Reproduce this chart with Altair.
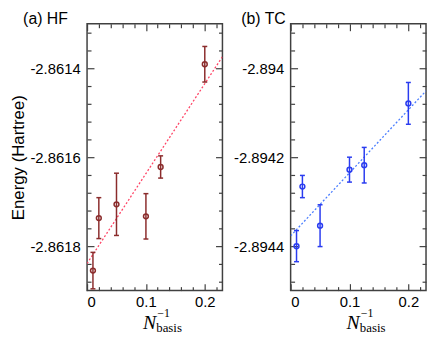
import altair as alt
import pandas as pd

# ---- data ----
inv_n = [0.01, 0.02, 0.05, 0.1, 0.125, 0.2]

hf_energy = [-2.861855, -2.861737, -2.861706, -2.861733, -2.861622, -2.861391]
hf_err = [0.000041, 0.000046, 0.00007, 0.000051, 0.000025, 0.00004]
hf_fit_x = [0.0, 0.23]
hf_fit_y = [-2.861839, -2.861374]

tc_energy = [-2.8944, -2.894266, -2.894354, -2.894228, -2.894218, -2.894079]
tc_err = [0.000035, 0.000025, 0.000047, 0.000028, 0.00004, 0.000047]
tc_fit_x = [0.0, 0.23]
tc_fit_y = [-2.894377, -2.894051]

x_domain = [0, 0.23]
x_ticks = [0, 0.02, 0.04, 0.06, 0.08, 0.1, 0.12, 0.14, 0.16, 0.18, 0.2, 0.22]
x_labels = [0, 0.1, 0.2]

hf_domain = [-2.8619, -2.8613]
hf_labels = [-2.8618, -2.8616, -2.8614]
hf_ticks = [-2.86188, -2.86184, -2.8618, -2.86176, -2.86172, -2.86168, -2.86164,
            -2.8616, -2.86156, -2.86152, -2.86148, -2.86144, -2.8614, -2.86136, -2.86132]

tc_domain = [-2.8945, -2.8939]
tc_labels = [-2.8944, -2.8942, -2.894]
tc_ticks = [-2.89448, -2.89444, -2.8944, -2.89436, -2.89432, -2.89428, -2.89424,
            -2.8942, -2.89416, -2.89412, -2.89408, -2.89404, -2.894, -2.89396, -2.89392]

SANS = "Liberation Sans, Arial, Helvetica, sans-serif"
SERIF = "Liberation Serif, Times New Roman, serif"
FRAME = "#404040"
W, H = 137, 270
TOP, BOTTOM = 13, 45

Y_MAJOR = "abs(datum.value*5000 - round(datum.value*5000)) < 0.01"
X_MAJOR = "abs(datum.value*10 - round(datum.value*10)) < 0.01"


def tick_axis(orient, offset, values, test):
    return alt.Axis(orient=orient, offset=offset, values=values, labels=False,
                    domain=False, grid=False, title=None, tickColor=FRAME, tickWidth=1.2,
                    tickSize={"condition": {"test": test, "value": 7}, "value": 4})


def panel(energy, err, fit_x, fit_y, ydom, ylabels, yticks, bar_color, line_color,
          title, title_dx, ytitle, guide_x):
    df = pd.DataFrame({
        "x": inv_n,
        "e": energy,
        "lo": [e - d for e, d in zip(energy, err)],
        "hi": [e + d for e, d in zip(energy, err)],
    })
    fit = pd.DataFrame({"x": fit_x, "e": fit_y})
    one = pd.DataFrame({"k": [0]})
    xs = alt.Scale(domain=x_domain, nice=False, zero=False)
    ys = alt.Scale(domain=ydom, nice=False, zero=False)

    ykw = dict(orient="left", values=ylabels, labelExpr="datum.value + ''", ticks=False,
               tickSize=0, domain=False, grid=False, labelPadding=7, labelFontSize=15,
               labelFont=SANS, labelColor="black")
    if ytitle:
        label_y = alt.Axis(title=ytitle, titleFontSize=17, titleFont=SANS,
                           titleFontWeight="normal", titleColor="black", titlePadding=2, **ykw)
    else:
        label_y = alt.Axis(title=None, **ykw)
    label_x = alt.Axis(orient="bottom", values=x_labels, labelExpr="datum.value + ''",
                       ticks=False, tickSize=0, domain=False, grid=False, labelPadding=4,
                       labelFontSize=15, labelFont=SANS, labelColor="black", title=None)

    base = alt.Chart(df)
    points = base.mark_point(shape="circle", filled=False, size=24, strokeWidth=1.5,
                             color=bar_color, opacity=1).encode(
        x=alt.X("x:Q", scale=xs, axis=label_x),
        y=alt.Y("e:Q", scale=ys, axis=label_y))
    rules = base.mark_rule(color=bar_color, strokeWidth=1.5).encode(
        x=alt.X("x:Q", scale=xs, axis=tick_axis("bottom", -H, x_ticks, X_MAJOR)),
        y=alt.Y("lo:Q", scale=ys, axis=tick_axis("right", -W, yticks, Y_MAJOR)),
        y2="hi:Q")
    caps_hi = base.mark_tick(orient="horizontal", size=5, thickness=1.5, color=bar_color,
                             opacity=1).encode(
        x=alt.X("x:Q", scale=xs, axis=tick_axis("top", -H, x_ticks, X_MAJOR)),
        y=alt.Y("hi:Q", scale=ys, axis=tick_axis("left", -W, yticks, Y_MAJOR)))
    caps_lo = base.mark_tick(orient="horizontal", size=5, thickness=1.5, color=bar_color,
                             opacity=1).encode(
        x=alt.X("x:Q", scale=xs, axis=None),
        y=alt.Y("lo:Q", scale=ys, axis=None))
    line = alt.Chart(fit).mark_line(color=line_color, strokeDash=[2, 2], strokeWidth=1.3,
                                    clip=True).encode(
        x=alt.X("x:Q", scale=xs, axis=None),
        y=alt.Y("e:Q", scale=ys, axis=None))

    t = alt.Chart(one)
    # invisible guide that fixes the layout extent of the panel
    guide = t.mark_rule(opacity=0, strokeOpacity=0, strokeWidth=0.5).encode(
        x=alt.value(guide_x), x2=alt.value(guide_x),
        y=alt.value(-TOP), y2=alt.value(H + BOTTOM))
    ttl = t.mark_text(text=title, align="left", baseline="alphabetic", fontSize=16,
                      font=SANS, color="black").encode(x=alt.value(title_dx), y=alt.value(0))
    n_txt = t.mark_text(text="N", align="right", baseline="alphabetic", fontSize=20,
                        font=SERIF, fontStyle="italic", color="black").encode(
        x=alt.value(70), y=alt.value(H + 38.5))
    sup = t.mark_text(text="\u22121", align="left", baseline="alphabetic", fontSize=12,
                      font=SERIF, color="black").encode(x=alt.value(71), y=alt.value(H + 27))
    sub = t.mark_text(text="basis", align="left", baseline="alphabetic", fontSize=13,
                      font=SERIF, color="black").encode(x=alt.value(70), y=alt.value(H + 42))

    return alt.layer(guide, line, rules, caps_lo, caps_hi, points, ttl, n_txt, sup,
                     sub).resolve_axis(x="independent", y="independent").properties(
        width=W, height=H)


left = panel(hf_energy, hf_err, hf_fit_x, hf_fit_y, hf_domain, hf_labels, hf_ticks,
             "#8b2c2c", "#ff4466", "(a) HF", -64.7, "Energy (Hartree)", -79)
right = panel(tc_energy, tc_err, tc_fit_x, tc_fit_y, tc_domain, tc_labels, tc_ticks,
              "#2a3cf0", "#4a7dff", "(b) TC", -50, None, -60)

chart = alt.hconcat(left, right, spacing=6).properties(
    padding={"left": 0, "top": 0, "right": 0, "bottom": 0}
).configure_view(stroke=FRAME, strokeWidth=1.5).configure_axis(grid=False, domain=False)

chart.save("out.html", embed_options={"renderer": "svg", "actions": False})
